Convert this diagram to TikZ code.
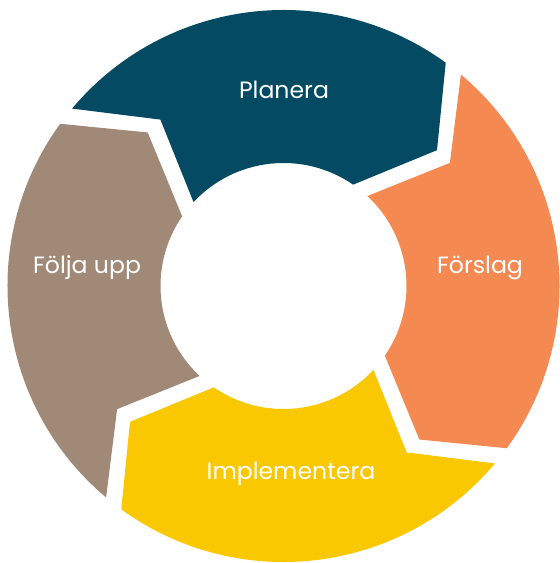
\documentclass[tikz,border=0pt]{standalone}
\usepackage{fontspec}
\setmainfont{Poppins}
\definecolor{planblue}{RGB}{3,74,98}
\definecolor{forslagorange}{RGB}{245,137,82}
\definecolor{implyellow}{RGB}{250,200,0}
\definecolor{foljtan}{RGB}{161,137,119}

\begin{document}
\begin{tikzpicture}[x=1pt,y=1pt,
    steplabel/.style={text=white,anchor=base,font=\fontsize{23.6}{28}\selectfont}]
    \useasboundingbox (0,0) rectangle (560,563);

    \begin{scope}[shift={(283.5,277)}] %ring of four arrows
        \fill[planblue] (140:276) -- (126.5:207) -- (137:123)
            arc[start angle=137,end angle=55.5,radius=123]
            -- (41.5:205) -- (54:276)
            arc[start angle=54,end angle=140,radius=276] -- cycle;
        \fill[forslagorange] (50:276) -- (36.5:207) -- (47:123)
            arc[start angle=47,end angle=-34.5,radius=123]
            -- (-48.5:205) -- (-36:276)
            arc[start angle=-36,end angle=50,radius=276] -- cycle;
        \fill[implyellow] (-40:276) -- (-53.5:207) -- (-43:123)
            arc[start angle=-43,end angle=-124.5,radius=123]
            -- (-138.5:205) -- (-126:276)
            arc[start angle=-126,end angle=-40,radius=276] -- cycle;
        \fill[foljtan] (-130:276) -- (-143.5:207) -- (-133:123)
            arc[start angle=-133,end angle=-214.5,radius=123]
            -- (-228.5:205) -- (-216:276)
            arc[start angle=-216,end angle=-130,radius=276] -- cycle;
    \end{scope}

    \node[steplabel] (planera) at (284,464.5) {Planera};
    \node[steplabel] (forslag) at (480,289) {Förslag};
    \node[steplabel] (implementera) at (291,83) {Implementera};
    \node[steplabel] (foljaupp) at (87,289) {Följa upp};
\end{tikzpicture}
\end{document}
